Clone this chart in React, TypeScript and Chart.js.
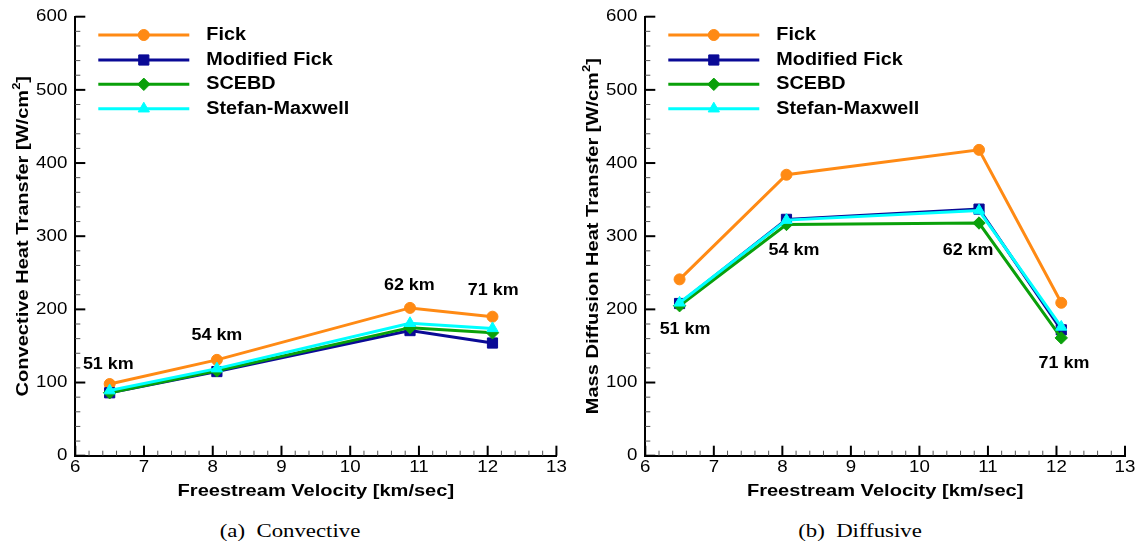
import React, { useEffect, useRef } from 'react';
import { Chart, registerables } from 'chart.js';

Chart.register(...registerables);

// ---------- data ----------
const velocity = [6.5, 8.06, 10.87, 12.07];
const seriesNames = ['Fick', 'Modified Fick', 'SCEBD', 'Stefan-Maxwell'];
const altitudeLabels = ['51 km', '54 km', '62 km', '71 km'];

const convFick = [98, 131, 202, 190];
const convModFick = [86, 115, 171, 154];
const convScebd = [86, 116, 175, 168];
const convStefan = [89, 119, 181, 174];

const diffFick = [241, 384, 418, 209];
const diffModFick = [208, 323, 337, 172];
const diffScebd = [205, 316, 318, 161];
const diffStefan = [209, 322, 335, 176];

// altitude annotation anchors (data units)
const convLabelX = [6.48, 8.06, 10.86, 12.08];
const convLabelY = [125, 164, 233, 225];
const diffLabelX = [6.58, 8.17, 10.71, 12.11];
const diffLabelY = [172, 281, 281, 126];

const xTitle = 'Freestream Velocity [km/sec]';
const convYTitle = 'Convective Heat Transfer';
const diffYTitle = 'Mass Diffusion Heat Transfer';

// ---------- styles ----------
const COLORS = ['#FF8A14', '#0A0A96', '#0AA00A', '#00FFFF'];
const POINT_STYLES = ['circle', 'rect', 'rectRot', 'triangle'];
const POINT_RADII = [5.5, 7.2, 6.2, 6.5];
const SANS = '"Liberation Sans", Arial, sans-serif';
const CANVAS_H = 515;
const AXIS_BOTTOM = 455.7;
const AXIS_TOP = 16.7;
const AXIS_LEFT = 75.3;

function txt(ctx: CanvasRenderingContext2D, text: string, x: number, y: number, font: string, stretch: number, align: CanvasTextAlign) {
  ctx.save();
  ctx.translate(x, y);
  ctx.scale(stretch, 1);
  ctx.font = font;
  ctx.textAlign = align;
  ctx.textBaseline = 'middle';
  ctx.fillStyle = '#000';
  ctx.fillText(text, 0, 0);
  ctx.restore();
}

function marker(ctx: CanvasRenderingContext2D, style: string, x: number, y: number, r: number, color: string) {
  ctx.save();
  ctx.fillStyle = color;
  ctx.strokeStyle = color;
  ctx.lineWidth = 1;
  ctx.beginPath();
  if (style === 'circle') {
    ctx.arc(x, y, r, 0, Math.PI * 2);
  } else if (style === 'rect') {
    const s = Math.SQRT1_2 * r;
    ctx.rect(x - s, y - s, 2 * s, 2 * s);
  } else if (style === 'rectRot') {
    ctx.moveTo(x - r, y);
    ctx.lineTo(x, y - r);
    ctx.lineTo(x + r, y);
    ctx.lineTo(x, y + r);
    ctx.closePath();
  } else {
    let a = 0;
    ctx.moveTo(x + Math.sin(a) * r, y - Math.cos(a) * r);
    a += (2 * Math.PI) / 3;
    ctx.lineTo(x + Math.sin(a) * r, y - Math.cos(a) * r);
    a += (2 * Math.PI) / 3;
    ctx.lineTo(x + Math.sin(a) * r, y - Math.cos(a) * r);
    ctx.closePath();
  }
  ctx.fill();
  ctx.stroke();
  ctx.restore();
}

function makeDecor(yTitle: string, labelX: number[], labelY: number[]) {
  return {
    id: 'decor',
    afterDraw(chart: any) {
      const ctx: CanvasRenderingContext2D = chart.ctx;
      const xs = chart.scales.x;
      const ys = chart.scales.y;
      const area = chart.chartArea;

      // inward ticks
      ctx.save();
      ctx.lineCap = 'butt';
      for (let i = 0; i <= 35; i++) {
        const v = xs.min + i * 0.2;
        const px = xs.getPixelForValue(v);
        const major = i % 5 === 0;
        ctx.strokeStyle = major ? '#000' : '#555';
        ctx.lineWidth = major ? 2 : 1;
        ctx.beginPath();
        ctx.moveTo(px, area.bottom);
        ctx.lineTo(px, area.bottom - (major ? 10 : 5));
        ctx.stroke();
      }
      for (let i = 0; i <= 30; i++) {
        const v = ys.min + i * 20;
        const py = ys.getPixelForValue(v);
        const major = i % 5 === 0;
        ctx.strokeStyle = major ? '#000' : '#555';
        ctx.lineWidth = major ? 2 : 1;
        ctx.beginPath();
        ctx.moveTo(area.left, py);
        ctx.lineTo(area.left + (major ? 10 : 5), py);
        ctx.stroke();
      }
      ctx.restore();

      // tick labels
      const tickFont = `17px ${SANS}`;
      xs.ticks.forEach((t: any) => {
        txt(ctx, String(t.value), xs.getPixelForValue(t.value), 467, tickFont, 1.1, 'center');
      });
      ys.ticks.forEach((t: any) => {
        txt(ctx, String(t.value), area.left - 8, ys.getPixelForValue(t.value), tickFont, 1.1, 'right');
      });

      // x title
      txt(ctx, xTitle, (area.left + area.right) / 2, 491, `bold 17px ${SANS}`, 1.18, 'center');

      // y title with superscript
      ctx.save();
      ctx.translate(21.5, (area.top + area.bottom) / 2);
      ctx.rotate(-Math.PI / 2);
      ctx.scale(1.18, 1);
      ctx.fillStyle = '#000';
      ctx.textBaseline = 'alphabetic';
      ctx.textAlign = 'left';
      const mainFont = `bold 17px ${SANS}`;
      const supFont = `bold 11px ${SANS}`;
      const main = yTitle + ' [W/cm';
      ctx.font = mainFont;
      const w1 = ctx.measureText(main).width;
      const w3 = ctx.measureText(']').width;
      ctx.font = supFont;
      const w2 = ctx.measureText('2').width;
      let x0 = -(w1 + w2 + w3) / 2;
      ctx.font = mainFont;
      ctx.fillText(main, x0, 6);
      ctx.font = supFont;
      ctx.fillText('2', x0 + w1, -2);
      ctx.font = mainFont;
      ctx.fillText(']', x0 + w1 + w2, 6);
      ctx.restore();

      // altitude annotations
      altitudeLabels.forEach((lab, i) => {
        txt(ctx, lab, xs.getPixelForValue(labelX[i]), ys.getPixelForValue(labelY[i]), `bold 16px ${SANS}`, 1.12, 'center');
      });

      // legend
      const rows = [35, 60, 84.3, 108.7];
      seriesNames.forEach((name, i) => {
        const y = rows[i];
        ctx.save();
        ctx.strokeStyle = COLORS[i];
        ctx.lineWidth = 3;
        ctx.beginPath();
        ctx.moveTo(area.left + 23, y);
        ctx.lineTo(area.left + 114, y);
        ctx.stroke();
        ctx.restore();
        marker(ctx, POINT_STYLES[i], area.left + 68.5, y, POINT_RADII[i], COLORS[i]);
        txt(ctx, name, area.left + 131, y, `bold 18px ${SANS}`, 1.1, 'left');
      });
    },
  };
}

function buildChart(canvas: HTMLCanvasElement, series: number[][], padRight: number, yTitle: string, lx: number[], ly: number[]) {
  const datasets = series.map((vals, i) => ({
    label: seriesNames[i],
    data: velocity.map((x, j) => ({ x, y: vals[j] })),
    borderColor: COLORS[i],
    backgroundColor: COLORS[i],
    borderWidth: 3,
    pointStyle: POINT_STYLES[i],
    pointRadius: POINT_RADII[i],
    pointBorderWidth: 1,
    pointBorderColor: COLORS[i],
    pointBackgroundColor: COLORS[i],
    tension: 0,
    order: 4 - i,
    clip: false,
  }));
  return new Chart(canvas, {
    type: 'line',
    data: { datasets } as any,
    options: {
      responsive: false,
      animation: false,
      devicePixelRatio: 1,
      layout: { padding: { left: 0, right: padRight, top: AXIS_TOP, bottom: 0 } },
      plugins: { legend: { display: false }, tooltip: { enabled: false }, title: { display: false } },
      scales: {
        x: {
          type: 'linear',
          min: 6,
          max: 13,
          ticks: { display: false, stepSize: 1 },
          grid: { display: false },
          border: { display: true, color: '#000', width: 2 },
          afterFit: (s: any) => { s.height = CANVAS_H - AXIS_BOTTOM; },
        },
        y: {
          type: 'linear',
          min: 0,
          max: 600,
          ticks: { display: false, stepSize: 100 },
          grid: { display: false },
          border: { display: true, color: '#000', width: 2 },
          afterFit: (s: any) => { s.width = AXIS_LEFT; },
        },
      },
    } as any,
    plugins: [makeDecor(yTitle, lx, ly)],
  });
}

export default function App() {
  const leftRef = useRef<HTMLCanvasElement>(null);
  const rightRef = useRef<HTMLCanvasElement>(null);

  useEffect(() => {
    const c1 = buildChart(leftRef.current!, [convFick, convModFick, convScebd, convStefan], 13.6, convYTitle, convLabelX, convLabelY);
    const c2 = buildChart(rightRef.current!, [diffFick, diffModFick, diffScebd, diffStefan], 18, diffYTitle, diffLabelX, diffLabelY);
    return () => {
      c1.destroy();
      c2.destroy();
    };
  }, []);

  const caption: React.CSSProperties = {
    position: 'absolute',
    top: 518,
    width: 300,
    textAlign: 'center',
    font: '19px "Liberation Serif", serif',
    lineHeight: '26px',
    transform: 'scaleX(1.2)',
    color: '#000',
    whiteSpace: 'pre',
  };

  return (
    <div style={{ position: 'absolute', left: 0, top: 0, width: 1143, height: 550, background: '#fff', overflow: 'hidden' }}>
      <canvas ref={leftRef} width={570} height={CANVAS_H} style={{ position: 'absolute', left: 0, top: 0 }} />
      <canvas ref={rightRef} width={573} height={CANVAS_H} style={{ position: 'absolute', left: 570, top: 0 }} />
      <div style={{ ...caption, left: 290 - 150 }}>{'(a)  Convective'}</div>
      <div style={{ ...caption, left: 860 - 150 }}>{'(b)  Diffusive'}</div>
    </div>
  );
}
